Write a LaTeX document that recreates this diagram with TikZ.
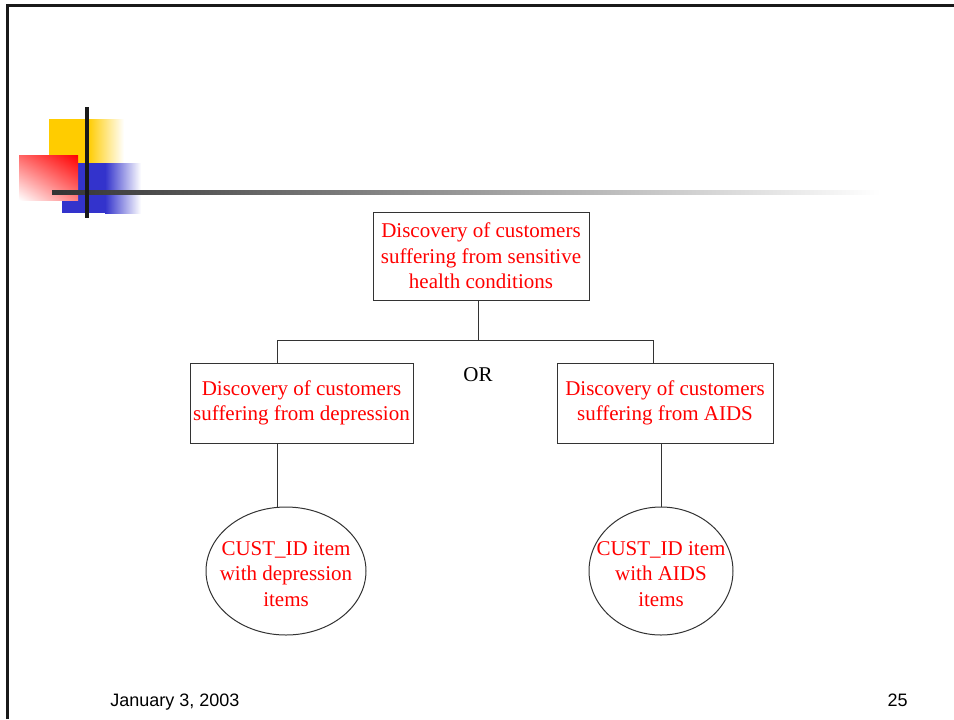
\documentclass[tikz,border=0pt]{standalone}
\usepackage{fontspec}
\setmainfont{Liberation Serif}
\newfontfamily\footfont{Liberation Sans}
\usetikzlibrary{shapes.geometric,shadings}

\definecolor{slideyellow}{HTML}{FFCC00}
\definecolor{slideblue}{HTML}{3333CC}

\tikzset{
  goal/.style={draw=black!80, line width=0.5pt, text=red, align=center,
    font=\fontsize{10.5}{12.75}\selectfont, inner sep=1pt},
  leaf/.style={draw=black!80, line width=0.5pt, ellipse, inner sep=0pt},
  leaftext/.style={text=red, align=center, font=\fontsize{10.5}{12.75}\selectfont},
  link/.style={draw=black!80, line width=0.5pt},
}

\begin{document}
\begin{tikzpicture}[x=0.5pt,y=-0.5pt]
  \useasboundingbox (0,0) rectangle (954,719);

  % slide frame
  \draw[line width=1.5pt, black!90] (7,719) -- (7,5) -- (954,5);

  % corner decoration
  \fill[slideyellow] (49,119) rectangle (88,163);
  \shade[left color=slideyellow, right color=white] (88,119) rectangle (124,163);
  \fill[slideblue] (62,163) rectangle (105,213);
  \shade[left color=slideblue, right color=white] (105,163) rectangle (141,213);
  \shade[upper right=red, upper left=red!60, lower right=red!50, lower left=white]
    (19,155) rectangle (78,200);
  \shade[left color=black!80, middle color=black!22, right color=white]
    (52,190.5) rectangle (880,194);
  \fill[black!90] (85,107) rectangle (89,218);

  % goal tree
  \node[goal, minimum width=108pt, minimum height=44pt] (top) at (481,256)
    {Discovery of customers\\suffering from sensitive\\health conditions};
  \node[goal, minimum width=111.5pt, minimum height=40pt] (dep) at (301.5,403)
    {Discovery of customers\\suffering from depression};
  \node[goal, minimum width=108pt, minimum height=40pt] (aids) at (665,403)
    {Discovery of customers\\suffering from AIDS};
  \node[font=\fontsize{10.5}{12.5}\selectfont] (or) at (478,375) {OR};

  \node[leaf, minimum width=80pt, minimum height=64pt] (depitems) at (286,571) {};
  \node[leaftext] at ([yshift=-1.5pt]depitems.center) {CUST\_ID item\\with depression\\items};
  \node[leaf, minimum width=72pt, minimum height=64pt] (aidsitems) at (661,571) {};
  \node[leaftext] at ([yshift=-1.5pt]aidsitems.center) {CUST\_ID item\\with AIDS\\items};

  \coordinate (orleft) at (277,340);
  \coordinate (orright) at (653,340);

  \draw[link] (top.south -| or) -- (or |- orleft);
  \draw[link] (dep.north -| orleft) -- (orleft) -- (orright) -- (aids.north -| orright);
  \draw[link] (dep.south -| orleft) -- ([yshift=-0.5pt]orleft |- depitems.north);
  \draw[link] (aids.south -| aidsitems) -- (aidsitems.north);

  % footer
  \node[font=\footfont\fontsize{9}{11}\selectfont, anchor=base west, inner sep=0pt]
    (date) at (110,706) {January 3, 2003};
  \node[font=\footfont\fontsize{9}{11}\selectfont, anchor=base east, inner sep=0pt]
    (page) at (908,706) {25};
\end{tikzpicture}
\end{document}
